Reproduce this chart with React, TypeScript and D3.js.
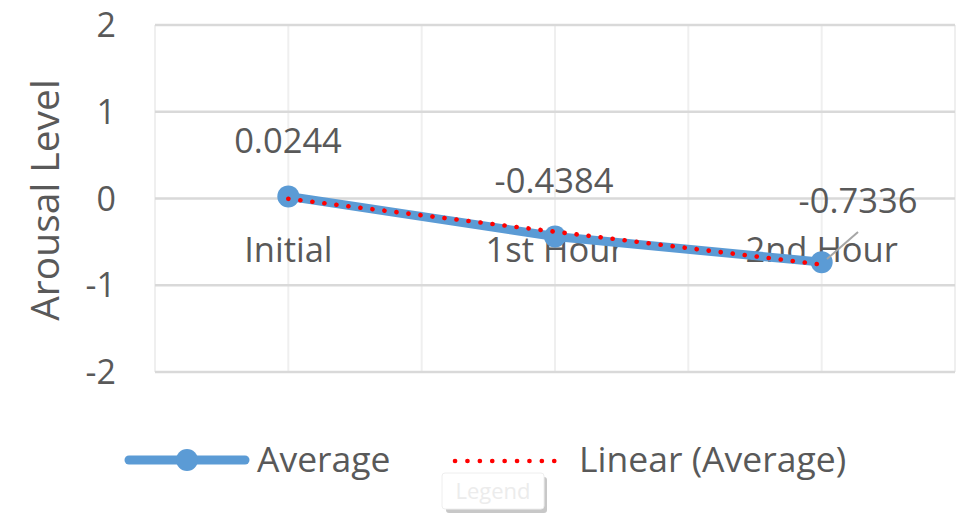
import * as d3 from "d3";

const categories = ["Initial", "1st Hour", "2nd Hour"];
const averageValues = [0.0244, -0.4384, -0.7336];
const dataLabels = ["0.0244", "-0.4384", "-0.7336"];
const yTicks = [2, 1, 0, -1, -2];
const seriesNames = ["Average", "Linear (Average)"];

const W = 964;
const H = 513;
const font = "'Open Sans', sans-serif";
const textColor = "#595959";

// least squares trend over category index (like Excel's linear trendline)
function linearTrend(vals: number[]) {
  const xs = vals.map((_, i) => i + 1);
  const mx = d3.mean(xs) as number;
  const my = d3.mean(vals) as number;
  const num = d3.sum(xs, (x, i) => (x - mx) * (vals[i] - my));
  const den = d3.sum(xs, (x) => (x - mx) * (x - mx));
  const slope = num / den;
  return xs.map((x) => my + slope * (x - mx));
}

export default function App() {
  const left = 155;
  const right = 955;
  const top = 25;
  const bottom = 372;

  const x = d3.scaleBand().domain(categories).range([left, right]).padding(0);
  const y = d3.scaleLinear().domain([-2, 2]).range([bottom, top]);
  const cx = (c: string) => (x(c) as number) + x.bandwidth() / 2;

  const trend = linearTrend(averageValues);

  const line = d3
    .line<number>()
    .x((_, i) => cx(categories[i]))
    .y((d) => y(d));

  // vertical gridlines at category edges and centres
  const vLines: number[] = [];
  categories.forEach((c, i) => {
    if (i === 0) vLines.push(x(c) as number);
    vLines.push(cx(c));
    vLines.push((x(c) as number) + x.bandwidth());
  });

  const labelBase = [153, 193, 213];
  const labelX = [288, 554, 858];

  return (
    <svg
      width={W}
      height={H}
      style={{ position: "absolute", left: 0, top: 0, background: "#fff" }}
      fontFamily={font}
    >
      {/* gridlines */}
      {vLines.map((v, i) => (
        <line key={"v" + i} x1={v} x2={v} y1={top} y2={bottom} stroke="#efefef" strokeWidth={2} />
      ))}
      {yTicks.map((t) => (
        <line key={"h" + t} x1={left} x2={right} y1={y(t)} y2={y(t)} stroke="#d9d9d9" strokeWidth={2.5} />
      ))}

      {/* y tick labels */}
      {yTicks.map((t) => (
        <text key={"t" + t} x={116} y={y(t) + 12} textAnchor="end" fontSize={34} fill={textColor}>
          {t}
        </text>
      ))}

      {/* axis title */}
      <text
        transform={`translate(59,200) rotate(-90)`}
        textAnchor="middle"
        fontSize={39}
        fill={textColor}
      >
        Arousal Level
      </text>

      {/* category labels (axis crosses at 0) */}
      {categories.map((c) => (
        <text key={c} x={cx(c)} y={262} textAnchor="middle" fontSize={34.5} fill={textColor}>
          {c}
        </text>
      ))}

      {/* series line */}
      <path
        d={line(averageValues) as string}
        fill="none"
        stroke="#5B9BD5"
        strokeWidth={9}
        strokeLinejoin="round"
        strokeLinecap="round"
      />
      {averageValues.map((v, i) => (
        <circle key={"m" + i} cx={cx(categories[i])} cy={y(v)} r={11} fill="#5B9BD5" />
      ))}

      {/* trendline */}
      <path
        d={line(trend) as string}
        fill="none"
        stroke="#FF0000"
        strokeWidth={4.6}
        strokeDasharray="0.1 12"
        strokeLinecap="round"
      />

      {/* leader line for last label */}
      <line x1={827} y1={259} x2={858} y2={232} stroke="#a6a6a6" strokeWidth={2} />

      {/* data labels */}
      {dataLabels.map((l, i) => (
        <text key={"d" + i} x={labelX[i]} y={labelBase[i]} textAnchor="middle" fontSize={34.5} fill={textColor}>
          {l}
        </text>
      ))}

      {/* legend */}
      <line x1={129} x2={245} y1={460} y2={460} stroke="#5B9BD5" strokeWidth={9} strokeLinecap="round" />
      <circle cx={187} cy={460} r={11} fill="#5B9BD5" />
      <text x={257} y={472} fontSize={35.5} fill={textColor}>
        {seriesNames[0]}
      </text>
      <line
        x1={455}
        x2={566}
        y1={461}
        y2={461}
        stroke="#FF0000"
        strokeWidth={4.6}
        strokeDasharray="0.1 12.3"
        strokeLinecap="round"
      />
      <text x={579} y={472} fontSize={35.5} fill={textColor}>
        {seriesNames[1]}
      </text>

      {/* hover tooltip */}
      <rect x={446} y={477} width={101} height={36} rx={3} fill="#9a9a9a" opacity={0.55} />
      <rect x={442} y={473} width={102} height={36} rx={3} fill="#fff" stroke="#eeeeee" strokeWidth={1} />
      <text x={493} y={499} textAnchor="middle" fontSize={22} fill="#ececec">
        Legend
      </text>
    </svg>
  );
}
